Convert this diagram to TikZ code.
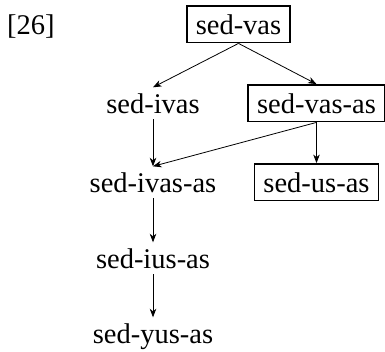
\documentclass[tikz,border=0pt]{standalone}
\usepackage{fontspec}
\setmainfont{Liberation Serif}
\usetikzlibrary{arrows.meta}
\tikzset{
  word/.style={anchor=base, font=\fontsize{28.5}{34}\selectfont, text height=19.5pt, text depth=0pt, inner xsep=0pt, inner ysep=6pt},
  boxed/.style={word, draw, line width=1.8pt, inner xsep=9pt, inner ysep=8.5pt},
  link/.style={line width=0.8pt, -{Stealth[length=8.5pt, width=6.5pt, inset=2.5pt]}}
}
\begin{document}
\begin{tikzpicture}[x=1pt, y=-1pt]
\useasboundingbox (0,0) rectangle (385,351);
\node[word, anchor=base west] (lab) at (7,34) {[26]};
\node[boxed] (sv) at (238.5,34) {sed-vas};
\node[word] (siv) at (153,113) {sed-ivas};
\node[boxed] (sva) at (316.5,113) {sed-vas-as};
\node[word] (siva) at (153,192) {sed-ivas-as};
\node[boxed] (sua) at (316.5,192) {sed-us-as};
\node[word] (siua) at (153,268) {sed-ius-as};
\node[word] (syua) at (153,343) {sed-yus-as};
\draw[link] (sv.south) -- (siv.north);
\draw[link] (sv.south) -- (sva.north);
\draw[link] (siv.south) -- (siva.north);
\draw[link] (sva.south) -- (siva.north);
\draw[link] (sva.south) -- (sua.north);
\draw[link] (siva.south) -- (siua.north);
\draw[link] (siua.south) -- (syua.north);
\end{tikzpicture}
\end{document}
